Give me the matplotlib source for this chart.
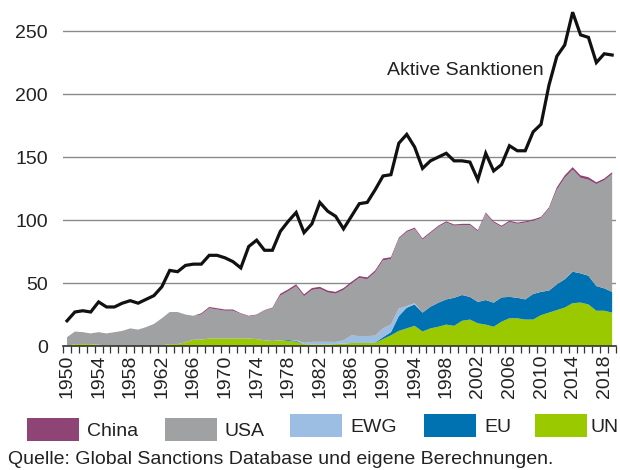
import matplotlib
matplotlib.use("Agg")
import matplotlib.pyplot as plt
import numpy as np
from matplotlib.patches import Rectangle

plt.rcParams['font.family'] = ['Liberation Sans', 'DejaVu Sans']

years = list(range(1950, 2020))

aktive = [20, 27, 28, 27, 35, 31, 31, 34, 36, 34,
          37, 40, 47, 60, 59, 64, 65, 65, 72, 72,
          70, 67, 62, 79, 84, 76, 76, 91, 99, 106,
          90, 97, 114, 107, 103, 93, 103, 113, 114, 124,
          135, 136, 161, 168, 158, 141, 147, 150, 153, 147,
          147, 146, 132, 153, 139, 144, 159, 155, 155, 170,
          176, 207, 230, 239, 265, 247, 245, 225, 232, 231]

un = [0, 1.5, 1.5, 1.5, 1, 0.5, 0.5, 0.5, 0.5, 0.5,
      0.5, 0.5, 0.5, 1.5, 1.5, 3, 5, 5, 6, 6,
      6, 6, 6, 6, 5.5, 4.5, 4, 4.5, 4, 3.5,
      1.5, 1.3, 1.3, 1.3, 1.5, 2, 2.4, 2.4, 2.4, 2.4,
      5.5, 8.5, 12, 14, 16, 11.5, 14, 15.3, 17, 16,
      20, 21, 18, 17, 15.3, 19.3, 22, 22, 21, 21,
      24.5, 26.5, 28.5, 30.5, 34, 34.5, 33, 28, 28, 26.5]

eu = [0, 0, 0, 0, 0, 0, 0, 0, 0, 0,
      0, 0, 0, 0, 0, 0, 0, 0, 0, 0,
      0, 0, 0, 0, 0, 0, 0, 0, 0.7, 0.7,
      0, 0, 0, 0, 0, 0, 0, 0, 0, 0.3,
      1.5, 2.5, 11.8, 16.4, 17, 15, 17.2, 19.1, 20, 22.3,
      20.5, 18, 17, 19.5, 19.1, 19.3, 17, 16.3, 16, 20.3,
      18.5, 17.5, 20.5, 22.5, 25, 23.2, 22.8, 19.6, 17.8, 16.5]

ewg = [0, 0, 0, 0, 0, 0, 0, 0, 0, 0,
       0, 0, 0, 0, 0, 0, 0, 0, 0, 0,
       0, 0, 0, 0, 0, 0, 0, 0, 0, 0.5,
       1, 2, 2, 2, 1.7, 2.5, 6, 5.5, 5.5, 5.5,
       7, 6, 6, 1.3, 1, 0, 0, 0, 0, 0,
       0, 0, 0, 0, 0, 0, 0, 0, 0, 0,
       0, 0, 0, 0, 0, 0, 0, 0, 0, 0]

usa = [7, 10, 9.5, 8.5, 10, 9.5, 10.5, 11.5, 13.5, 12.5,
       14.5, 17, 21.5, 25.5, 25.5, 22, 19, 20, 24, 23,
       22, 22, 19.5, 17.5, 19, 23.5, 26, 35.5, 38.8, 42.8,
       37, 41.2, 42.2, 39.2, 38.3, 40, 41.1, 46.1, 45.1, 50.3,
       54, 52, 55.2, 58.8, 59, 58, 58.3, 60.1, 61, 57.2,
       55.5, 57, 56, 68.5, 63.6, 55.9, 59.5, 58.7, 61, 58.2,
       58.5, 65, 75, 80.5, 81, 75.8, 76.2, 80.9, 85.7, 93.5]

china = [0] * 17 + [1] * 5 + [0.5] * 5 + [1.5] * 15 + [1] * 20 + [2] * 5 + [1.5] * 3

legend_labels = ["China", "USA", "EWG", "EU", "UN"]
tick_years = list(range(1950, 2019, 4))
y_ticks = [0, 50, 100, 150, 200, 250]

col_china = "#8f4476"
col_usa = "#a0a1a3"
col_ewg = "#9dbee3"
col_eu = "#0072b1"
col_un = "#9bc900"

FS = 14

fig = plt.figure(figsize=(6.2, 4.7), dpi=100)
ax = fig.add_axes([0.1017, 0.2638, 0.892, 0.729])

ax.stackplot(years, un, eu, ewg, usa, china,
             colors=[col_un, col_eu, col_ewg, col_usa, col_china],
             linewidth=0, zorder=2)
ax.plot(years, aktive, color="#111111", lw=2.3, zorder=3, solid_joinstyle='miter')

ax.set_xlim(1949.5, 2019.5)
ax.set_ylim(0, 272)

for s in ["top", "right", "left"]:
    ax.spines[s].set_visible(False)
ax.spines["bottom"].set_color("#333333")
ax.spines["bottom"].set_linewidth(1.2)
ax.spines["bottom"].set_zorder(4)

ax.set_yticks(y_ticks)
ax.set_yticklabels([str(v) for v in y_ticks], fontsize=FS, color="#222222")
ax.tick_params(axis='y', length=0, pad=11)
ax.grid(axis='y', color="#8a8a8a", lw=1.0, zorder=0)
ax.set_axisbelow(True)

ax.set_xticks(tick_years)
ax.set_xticklabels([str(y) for y in tick_years], rotation=90, fontsize=FS, color="#222222")
ax.set_xticks(np.arange(1949.5, 2020, 1), minor=True)
ax.tick_params(axis='x', which='major', length=0, pad=6)
ax.tick_params(axis='x', which='minor', length=5, width=0.9, color="#333333", direction='out')

ax.text(1990.5, 219, "Aktive Sanktionen", fontsize=FS, color="#222222",
        ha='left', va='center')

# legend
W, H = 620.0, 470.0
items = [(27, col_china, "China", 418, 60), (165, col_usa, "USA", 418, 60),
         (290, col_ewg, "EWG", 414, 60), (424, col_eu, "EU", 414, 60),
         (535, col_un, "UN", 414, 55)]
for (x0, c, lab, ytop, gap) in items:
    fig.patches.append(Rectangle((x0 / W, 1 - (ytop + 23) / H), 52 / W, 23 / H,
                                 transform=fig.transFigure, facecolor=c, edgecolor='none'))
    fig.text((x0 + gap) / W, 1 - (ytop + 14) / H, lab, fontsize=FS, color="#222222",
             ha='left', va='center')

fig.text(8 / W, 1 - 460 / H, "Quelle: Global Sanctions Database und eigene Berechnungen.",
         fontsize=FS, color="#222222", ha='left', va='center')

fig.savefig("out.png", dpi=100)
